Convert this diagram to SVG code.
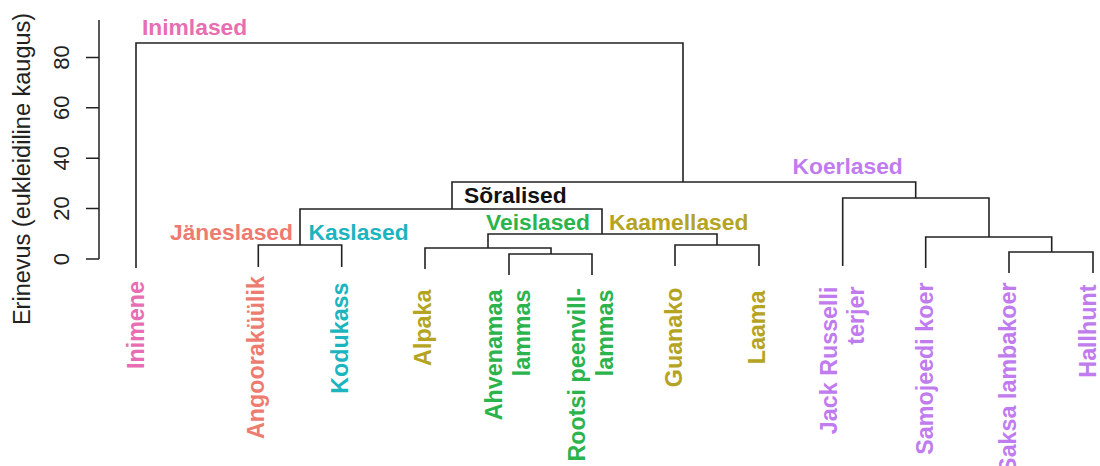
<svg xmlns="http://www.w3.org/2000/svg" width="1100" height="466" viewBox="0 0 1100 466">
  <style>
    text { font-family: "Liberation Sans", Arial, Helvetica, sans-serif; }
    .axis { stroke: #222; stroke-width: 1.5; fill: none; }
    .tick { font-size: 22px; fill: #222; text-anchor: middle; }
    .ytitle { font-size: 23.5px; fill: #222; text-anchor: middle; }
    .branch { stroke: #222; stroke-width: 1.6; fill: none; }
    .leaf { font-size: 23.3px; font-weight: bold; text-anchor: end; }
    .clade { font-size: 22.8px; font-weight: bold; }
    .pink { fill: #E86DB3; }
    .salmon { fill: #EE7B70; }
    .teal { fill: #1CB5BF; }
    .green { fill: #2BB34C; }
    .olive { fill: #B4A422; }
    .purple { fill: #C07CEE; }
    .black { fill: #111; }
  </style>

  <!-- height axis -->
  <g id="y-axis">
    <path class="axis" d="M99,20 V259 M86,259 H99 M86,208.6 H99 M86,158.2 H99 M86,107.8 H99 M86,57.4 H99"/>
    <text class="tick" transform="translate(68.5,259) rotate(-90)">0</text>
    <text class="tick" transform="translate(68.5,208.6) rotate(-90)">20</text>
    <text class="tick" transform="translate(68.5,158.2) rotate(-90)">40</text>
    <text class="tick" transform="translate(68.5,107.8) rotate(-90)">60</text>
    <text class="tick" transform="translate(68.5,57.4) rotate(-90)">80</text>
    <text class="ytitle" transform="translate(30,169) rotate(-90)">Erinevus (eukleidiline kaugus)</text>
  </g>

  <!-- dendrogram branches -->
  <g id="connectors">
    <path class="branch" d="M136,268 V43 H683 V182"/>
    <path class="branch" d="M452,209 V182 H915.7 V198"/>
    <path class="branch" d="M300,245 V209 H602 V234"/>
    <path class="branch" d="M258.3,267 V245 H341.7 V267"/>
    <path class="branch" d="M488,248 V234 H717 V245"/>
    <path class="branch" d="M425,269 V248 H551 V254"/>
    <path class="branch" d="M509,275 V254 H592 V275"/>
    <path class="branch" d="M675,266 V245 H759 V266"/>
    <path class="branch" d="M842.7,266 V198 H989 V237"/>
    <path class="branch" d="M925.7,268 V237 H1051.7 V252"/>
    <path class="branch" d="M1009,273 V252 H1093 V273"/>
  </g>

  <!-- clade labels -->
  <g id="clade-inimlased"><text class="clade pink" x="142" y="35">Inimlased</text></g>
  <g id="clade-jaeneslased"><text class="clade salmon" x="170" y="239.5">Jäneslased</text></g>
  <g id="clade-kaslased"><text class="clade teal" x="308.5" y="239.5">Kaslased</text></g>
  <g id="clade-soralised"><text class="clade black" x="464" y="203">Sõralised</text></g>
  <g id="clade-veislased"><text class="clade green" x="486" y="230">Veislased</text></g>
  <g id="clade-kaamellased"><text class="clade olive" x="609" y="230">Kaamellased</text></g>
  <g id="clade-koerlased"><text class="clade purple" x="792.5" y="173.5">Koerlased</text></g>

  <!-- leaves -->
  <g id="leaf-inimene"><text class="leaf pink" transform="translate(143.5,281) rotate(-90)">Inimene</text></g>
  <g id="leaf-angoorakyylik"><text class="leaf salmon" transform="translate(264,276) rotate(-90)">Angooraküülik</text></g>
  <g id="leaf-kodukass"><text class="leaf teal" transform="translate(348,282.5) rotate(-90)">Kodukass</text></g>
  <g id="leaf-alpaka"><text class="leaf olive" transform="translate(430.5,289.5) rotate(-90)">Alpaka</text></g>
  <g id="leaf-ahvenamaa-lammas">
    <text class="leaf green" transform="translate(501.7,289.5) rotate(-90)">Ahvenamaa</text>
    <text class="leaf green" transform="translate(529.5,289.5) rotate(-90)">lammas</text>
  </g>
  <g id="leaf-rootsi-peenvill-lammas">
    <text class="leaf green" transform="translate(585,288) rotate(-90)">Rootsi peenvill-</text>
    <text class="leaf green" transform="translate(613,289.5) rotate(-90)">lammas</text>
  </g>
  <g id="leaf-guanako"><text class="leaf olive" transform="translate(682,287.5) rotate(-90)">Guanako</text></g>
  <g id="leaf-laama"><text class="leaf olive" transform="translate(765,290.5) rotate(-90)">Laama</text></g>
  <g id="leaf-jack-russelli-terjer">
    <text class="leaf purple" transform="translate(837,286.5) rotate(-90)">Jack Russelli</text>
    <text class="leaf purple" transform="translate(864,286.5) rotate(-90)">terjer</text>
  </g>
  <g id="leaf-samojeedi-koer"><text class="leaf purple" transform="translate(932.5,282.5) rotate(-90)">Samojeedi koer</text></g>
  <g id="leaf-saksa-lambakoer"><text class="leaf purple" transform="translate(1015.5,282.5) rotate(-90)">Saksa lambakoer</text></g>
  <g id="leaf-hallhunt"><text class="leaf purple" transform="translate(1096,284.5) rotate(-90)">Hallhunt</text></g>
</svg>
